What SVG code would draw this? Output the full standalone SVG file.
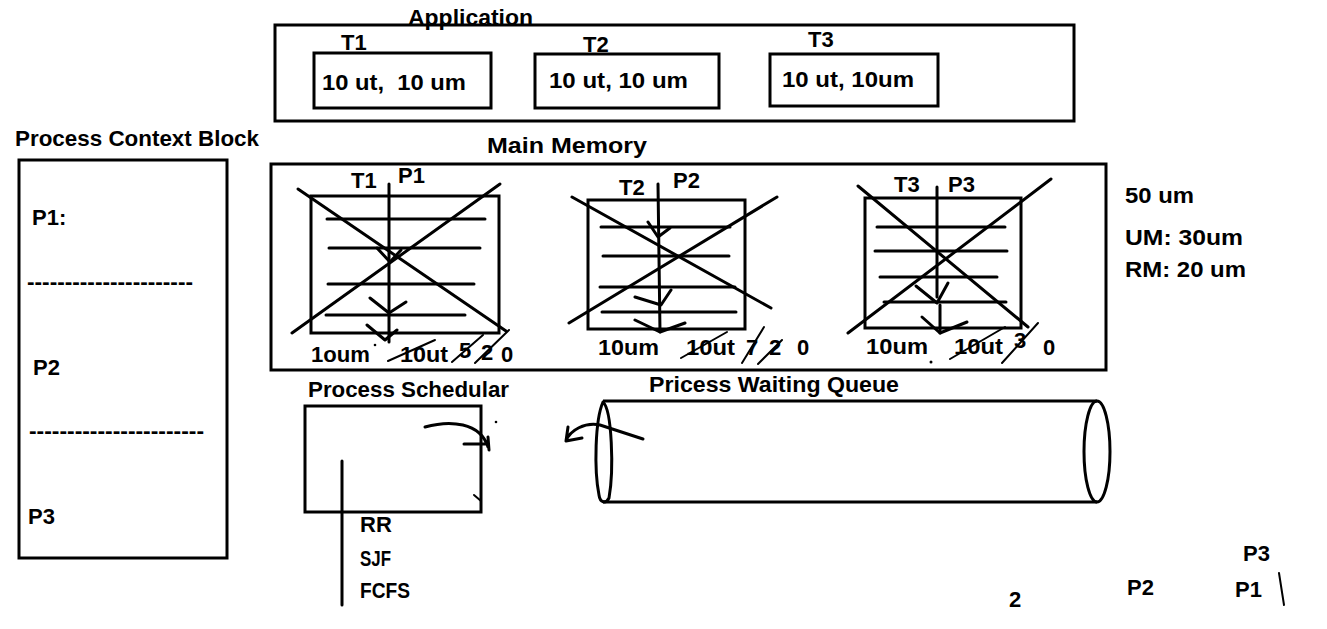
<svg xmlns="http://www.w3.org/2000/svg" width="1327" height="629" viewBox="0 0 1327 629">
<style>
text{font-family:"Liberation Sans",Arial,sans-serif;font-weight:bold;font-size:22px;fill:#000;white-space:pre}
.b{fill:none;stroke:#000;stroke-width:3}
.l{fill:none;stroke:#000;stroke-width:3;stroke-linecap:round;stroke-linejoin:round}
.t{fill:none;stroke:#000;stroke-width:2;stroke-linecap:round}
</style>
<rect width="1327" height="629" fill="#fff"/>

<g id="application">
<rect class="b" x="275" y="25" width="799" height="96"/>
<text x="408" y="25" textLength="125" lengthAdjust="spacingAndGlyphs">Application</text>
</g>
<g id="t1">
<text x="341" y="50">T1</text>
<rect class="b" x="314" y="53" width="177" height="55"/>
<text x="322" y="90" xml:space="preserve" textLength="144" lengthAdjust="spacingAndGlyphs">10 ut,  10 um</text>
</g>
<g id="t2">
<text x="583" y="52">T2</text>
<rect class="b" x="535" y="54" width="184" height="54"/>
<text x="549" y="88" textLength="139" lengthAdjust="spacingAndGlyphs">10 ut, 10 um</text>
</g>
<g id="t3">
<text x="808" y="47">T3</text>
<rect class="b" x="770" y="54" width="168" height="52"/>
<text x="782" y="87" textLength="132" lengthAdjust="spacingAndGlyphs">10 ut, 10um</text>
</g>

<g id="pcb">
<text x="15" y="146" textLength="244" lengthAdjust="spacingAndGlyphs">Process Context Block</text>
<rect class="b" x="19" y="160" width="208" height="398"/>
<text x="32" y="225">P1:</text>
<text x="27" y="289" textLength="166" lengthAdjust="spacingAndGlyphs">----------------------</text>
<text x="33" y="375">P2</text>
<text x="29" y="438" textLength="175" lengthAdjust="spacingAndGlyphs">-----------------------</text>
<text x="28" y="524">P3</text>
</g>

<g id="main-memory">
<text x="487" y="153" textLength="160" lengthAdjust="spacingAndGlyphs">Main Memory</text>
<rect class="b" x="271" y="164" width="835" height="206"/>
</g>

<g id="p1">
<rect class="b" x="311" y="196" width="188" height="137"/>
<path class="l" d="M327 219H485M329 248H480M328 284H474M326 315H465"/>
<path class="l" d="M298 189L506 331M500 184L292 333"/>
<path class="l" d="M389 184V342"/>
<path class="l" d="M377 248L390 262L401 250M370 298L389 313L406 302M367 325L385 340L397 330"/>
<text x="351" y="188">T1</text>
<text x="398" y="183">P1</text>
<text x="311" y="362" textLength="59" lengthAdjust="spacingAndGlyphs">1oum</text>
<circle cx="375" cy="345" r="1.3"/>
<text x="400" y="362" textLength="48" lengthAdjust="spacingAndGlyphs">10ut</text>
<path class="t" d="M388 361L435 340"/>
<text x="459" y="358">5</text>
<text x="481" y="360">2</text>
<text x="501" y="362">0</text>
<path class="t" d="M452 362L483 335M475 363L509 330"/>
</g>

<g id="p2">
<rect class="b" x="588" y="200" width="157" height="129"/>
<path class="l" d="M601 227H730M603 256H729M600 287H735M602 312H736"/>
<path class="l" d="M572 197L771 308M777 197L569 323"/>
<path class="l" d="M658 184L660 332"/>
<path class="l" d="M648 222L658 237L670 228M635 297L661 305L671 290M635 320L660 332L685 323"/>
<text x="619" y="195">T2</text>
<text x="673" y="188">P2</text>
<text x="598" y="355" textLength="61" lengthAdjust="spacingAndGlyphs">10um</text>
<text x="686" y="355" textLength="49" lengthAdjust="spacingAndGlyphs">10ut</text>
<path class="t" d="M681 358L727 332"/>
<text x="746" y="355">7</text>
<text x="769" y="355">2</text>
<text x="797" y="355">0</text>
<path class="t" d="M742 363L764 327M758 364L782 340"/>
</g>

<g id="p3">
<rect class="b" x="865" y="198" width="156" height="130"/>
<path class="l" d="M877 227H1005M875 251H1007M880 277H997M884 302H1006"/>
<path class="l" d="M858 186L1028 327M1051 179L848 333"/>
<path class="l" d="M937 187V297M940 305V333"/>
<path class="l" d="M916 286L937 303L948 283M922 317L940 333L967 322"/>
<text x="894" y="192">T3</text>
<text x="948" y="192">P3</text>
<text x="866" y="354" textLength="62" lengthAdjust="spacingAndGlyphs">10um</text>
<circle cx="931" cy="362" r="1.5"/>
<text x="954" y="354" textLength="49" lengthAdjust="spacingAndGlyphs">10ut</text>
<path class="t" d="M950 359L1005 327"/>
<text x="1014" y="348">3</text>
<text x="1043" y="355">0</text>
<path class="t" d="M1002 363L1038 323"/>
</g>

<g id="memory-stats">
<text x="1125" y="203" textLength="69" lengthAdjust="spacingAndGlyphs">50 um</text>
<text x="1125" y="245" textLength="118" lengthAdjust="spacingAndGlyphs">UM: 30um</text>
<text x="1125" y="277" textLength="121" lengthAdjust="spacingAndGlyphs">RM: 20 um</text>
</g>

<g id="scheduler">
<text x="308" y="397" textLength="201" lengthAdjust="spacingAndGlyphs">Process Schedular</text>
<rect class="b" x="305" y="406" width="176" height="106"/>
<path class="t" d="M474 495L481 501"/>
<path class="l" d="M342 461V605"/>
<text x="360" y="532">RR</text>
<text x="360" y="566" textLength="31" lengthAdjust="spacingAndGlyphs">SJF</text>
<text x="360" y="598" textLength="50" lengthAdjust="spacingAndGlyphs">FCFS</text>
</g>

<g id="waiting-queue">
<text x="649" y="392" textLength="250" lengthAdjust="spacingAndGlyphs">Pricess Waiting Queue</text>
<path class="b" d="M603 401H1097M603 502H1097"/>
<path class="l" d="M599 495C594 470 595 420 603 402C612 410 614 470 609 498C606 504 600 503 599 495"/>
<ellipse class="b" cx="1097" cy="451.5" rx="13" ry="50.5"/>
</g>

<g id="bottom-labels">
<text x="1009" y="607">2</text>
<text x="1127" y="595">P2</text>
<text x="1243" y="561">P3</text>
<text x="1235" y="597">P1</text>
<path class="t" d="M1279 573L1284 605"/>
</g>

<g id="connectors">
<path class="l" d="M425 427C450 420 480 422 488 447M464 444H488M488 437L489 450"/>
<circle cx="496" cy="422" r="1.3"/>
<path class="l" d="M643 439L600 425C585 422 570 430 566 441M566 441L582 438M566 441L568 427"/>
</g>
</svg>
